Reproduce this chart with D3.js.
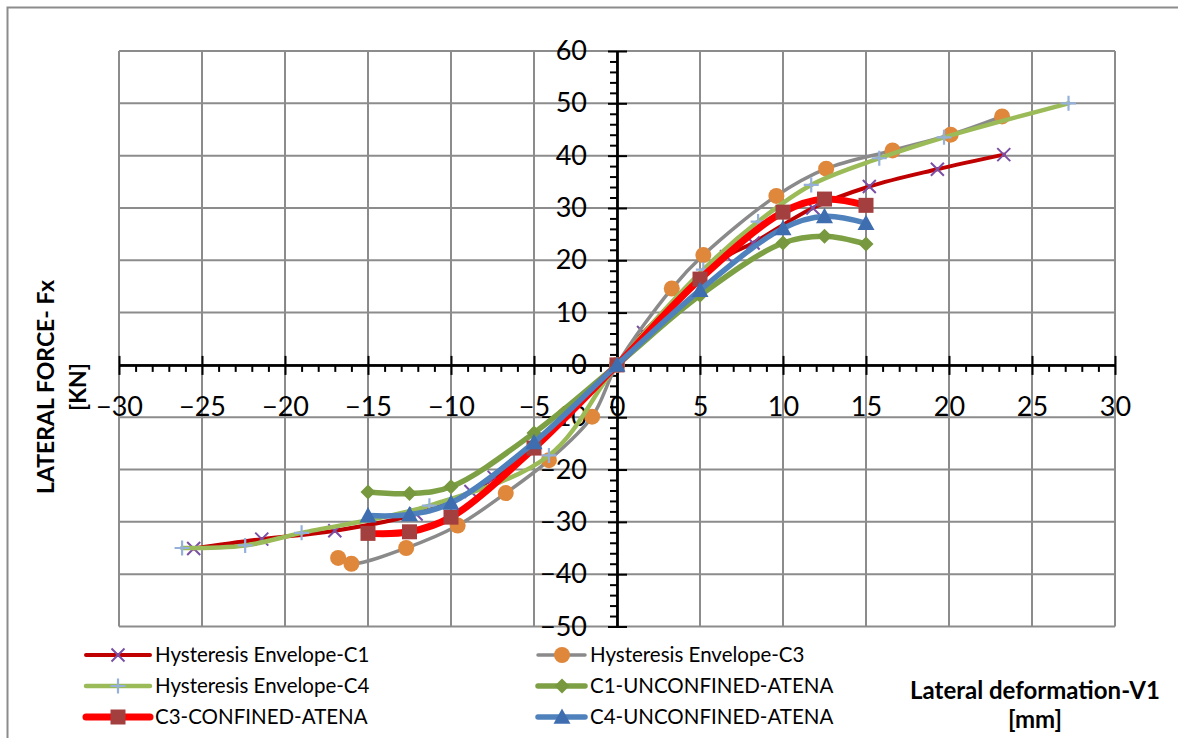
<!DOCTYPE html>
<html>
<head>
<meta charset="utf-8">
<script src="https://cdn.jsdelivr.net/npm/d3@7"></script>
<style>
  html, body { margin: 0; padding: 0; background: #fff; }
  svg { display: block; font-family: Lato, "Open Sans", sans-serif; }
</style>
</head>
<body>
<svg id="chart" width="1178" height="738"></svg>
<script>
// Axis ticks
const xTicks = [-30, -25, -20, -15, -10, -5, 0, 5, 10, 15, 20, 25, 30];
const yTicks = [60, 50, 40, 30, 20, 10, 0, -10, -20, -30, -40, -50];

// Hysteresis envelopes (experimental)
const c1EnvX = [-25.5, -21.4, -17.0, -12.1, -8.8, -7.4, 0, 1.6, 6.6, 8.2, 11.8, 15.2, 19.3, 23.3];
const c1EnvY = [-35.1, -33.3, -31.7, -28.5, -24.2, -21.5, 0, 6.2, 20.7, 23.3, 30.0, 34.1, 37.4, 40.2];

const c3EnvX = [-16.8, -16.0, -12.7, -9.6, -6.7, -4.1, -1.5, 0, 3.3, 5.2, 9.6, 12.6, 16.6, 20.1, 23.2];
const c3EnvY = [-36.9, -38.0, -35.0, -30.7, -24.5, -18.2, -9.9, 0, 14.6, 21.0, 32.3, 37.5, 41.0, 44.0, 47.5];

const c4EnvX = [-26.2, -22.4, -19.0, -11.3, -4.1, 0, 5.2, 8.5, 11.7, 15.8, 19.7, 27.2];
const c4EnvY = [-35.0, -34.5, -32.1, -26.9, -17.3, 0, 18.2, 27.4, 34.4, 39.5, 43.5, 50.0];

// ATENA models
const atenaX = [-15, -12.5, -10, -5, 0, 5, 10, 12.5, 15];
const c1AtenaY = [-24.3, -24.6, -23.3, -13.0, 0, 13.3, 23.3, 24.6, 23.1];
const c3AtenaY = [-32.2, -31.9, -29.1, -15.9, 0, 16.4, 29.2, 31.7, 30.5];
const c4AtenaY = [-28.8, -28.6, -26.4, -14.8, 0, 14.3, 26.1, 28.4, 27.1];

const seriesNames = [
  "Hysteresis Envelope-C1", "Hysteresis Envelope-C3", "Hysteresis Envelope-C4",
  "C1-UNCONFINED-ATENA", "C3-CONFINED-ATENA", "C4-UNCONFINED-ATENA"
];

const zip = (xs, ys) => xs.map((v, i) => ({ x: v, y: ys[i] }));

const series = [
  { name: seriesNames[0], pts: zip(c1EnvX, c1EnvY), line: "#C00000", lw: 4, marker: "x", mc: "#7A4FA6", ms: 13 },
  { name: seriesNames[1], pts: zip(c3EnvX, c3EnvY), line: "#8A8A8A", lw: 3.5, marker: "circle", mc: "#DF873B", ms: 16 },
  { name: seriesNames[2], pts: zip(c4EnvX, c4EnvY), line: "#9BBB59", lw: 4.5, marker: "plus", mc: "#95B0DA", ms: 15 },
  { name: seriesNames[3], pts: zip(atenaX, c1AtenaY), line: "#7DA045", lw: 5.5, marker: "diamond", mc: "#77983E", ms: 15 },
  { name: seriesNames[4], pts: zip(atenaX, c3AtenaY), line: "#FF0000", lw: 7, marker: "square", mc: "#A3403F", ms: 15 },
  { name: seriesNames[5], pts: zip(atenaX, c4AtenaY), line: "#4F81BD", lw: 5.5, marker: "triangle", mc: "#3E6EAF", ms: 17 }
];

const svg = d3.select("#chart");

// Chart frame
svg.append("rect")
  .attr("x", 7.5).attr("y", 7.5)
  .attr("width", 1190).attr("height", 760)
  .attr("fill", "#fff").attr("stroke", "#8c8c8c").attr("stroke-width", 2);

const plot = { left: 119, right: 1115, top: 51, bottom: 626.5 };
const x = d3.scaleLinear().domain([-30, 30]).range([plot.left, plot.right]);
const y = d3.scaleLinear().domain([-50, 60]).range([plot.bottom, plot.top]);

// Gridlines
const grid = svg.append("g").attr("stroke", "#8c8c8c").attr("stroke-width", 2);
grid.selectAll("line.v").data(xTicks).join("line")
  .attr("x1", d => x(d)).attr("x2", d => x(d))
  .attr("y1", plot.top).attr("y2", plot.bottom);
grid.selectAll("line.h").data(yTicks).join("line")
  .attr("x1", plot.left).attr("x2", plot.right)
  .attr("y1", d => y(d)).attr("y2", d => y(d));

// Axes crossing at the origin
const x0 = x(0), y0 = y(0);
const xMinor = d3.range(-30, 31, 1).filter(v => v % 5 !== 0);
const yMinor = d3.range(-50, 61, 2).filter(v => v % 10 !== 0);

function styleAxis(g) {
  g.select(".domain").attr("stroke", "#000").attr("stroke-width", 2);
  g.selectAll(".tick line").attr("stroke", "#000").attr("stroke-width", 2);
}

// X axis: major ticks cross, minor ticks outside
svg.append("g").attr("transform", `translate(0,${y0})`)
  .call(d3.axisBottom(x).tickValues(xTicks).tickSize(10).tickFormat("").tickSizeOuter(0))
  .call(styleAxis);
svg.append("g").attr("transform", `translate(0,${y0})`)
  .call(d3.axisTop(x).tickValues(xTicks).tickSize(9).tickFormat("").tickSizeOuter(0))
  .call(styleAxis);
svg.append("g").attr("transform", `translate(0,${y0})`)
  .call(d3.axisBottom(x).tickValues(xMinor).tickSize(7).tickFormat("").tickSizeOuter(0))
  .call(styleAxis);
svg.append("g").attr("transform", `translate(0,${y0})`)
  .call(d3.axisBottom(x).tickValues(xTicks).tickSize(0).tickPadding(32).tickFormat(d3.format("d")))
  .call(g => {
    g.select(".domain").remove();
    g.selectAll("text").attr("font-size", 27).attr("fill", "#000").attr("font-family", "Lato");
  });

// Y axis: major ticks cross, minor ticks outside
svg.append("g").attr("transform", `translate(${x0},0)`)
  .call(d3.axisLeft(y).tickValues(yTicks).tickSize(9).tickFormat("").tickSizeOuter(0))
  .call(styleAxis);
svg.append("g").attr("transform", `translate(${x0},0)`)
  .call(d3.axisRight(y).tickValues(yTicks).tickSize(10).tickFormat("").tickSizeOuter(0))
  .call(styleAxis);
svg.append("g").attr("transform", `translate(${x0},0)`)
  .call(d3.axisLeft(y).tickValues(yMinor).tickSize(7).tickFormat("").tickSizeOuter(0))
  .call(styleAxis);
svg.append("g").attr("transform", `translate(${x0},0)`)
  .call(d3.axisLeft(y).tickValues(yTicks).tickSize(0).tickPadding(30).tickFormat(d3.format("d")))
  .call(g => {
    g.select(".domain").remove();
    g.selectAll("text").attr("font-size", 27).attr("fill", "#000").attr("font-family", "Lato");
  });

// Marker shapes
function drawMarker(g, type, cx, cy, size, color) {
  const h = size / 2;
  if (type === "x") {
    g.append("path").attr("d", `M${cx - h},${cy - h}L${cx + h},${cy + h}M${cx - h},${cy + h}L${cx + h},${cy - h}`)
      .attr("stroke", color).attr("stroke-width", 2).attr("fill", "none");
  } else if (type === "plus") {
    g.append("path").attr("d", `M${cx - h},${cy}L${cx + h},${cy}M${cx},${cy - h}L${cx},${cy + h}`)
      .attr("stroke", color).attr("stroke-width", 2.2).attr("fill", "none");
  } else if (type === "circle") {
    g.append("circle").attr("cx", cx).attr("cy", cy).attr("r", h).attr("fill", color);
  } else if (type === "square") {
    g.append("rect").attr("x", cx - h).attr("y", cy - h).attr("width", size).attr("height", size).attr("fill", color);
  } else if (type === "diamond") {
    g.append("path").attr("d", `M${cx},${cy - h}L${cx + h},${cy}L${cx},${cy + h}L${cx - h},${cy}Z`).attr("fill", color);
  } else if (type === "triangle") {
    g.append("path").attr("d", `M${cx},${cy - h}L${cx + h},${cy + h * 0.8}L${cx - h},${cy + h * 0.8}Z`).attr("fill", color);
  }
}

// Smoothed series lines with markers
const lineGen = d3.line().x(d => x(d.x)).y(d => y(d.y)).curve(d3.curveCatmullRom.alpha(0.5));
series.forEach(s => {
  const g = svg.append("g");
  g.append("path").datum(s.pts).attr("d", lineGen)
    .attr("fill", "none").attr("stroke", s.line).attr("stroke-width", s.lw)
    .attr("stroke-linejoin", "round").attr("stroke-linecap", "round");
  s.pts.forEach(p => drawMarker(g, s.marker, x(p.x), y(p.y), s.ms, s.mc));
});

// Legend, two columns
const legendCols = [{ lx1: 86, lx2: 150, mx: 118, tx: 155 }, { lx1: 538, lx2: 585, mx: 562, tx: 590 }];
const legendRows = [655, 686, 717];
series.forEach((s, i) => {
  const c = legendCols[i % 2], ry = legendRows[Math.floor(i / 2)];
  const g = svg.append("g");
  g.append("line").attr("x1", c.lx1).attr("x2", c.lx2).attr("y1", ry).attr("y2", ry)
    .attr("stroke", s.line).attr("stroke-width", s.lw).attr("stroke-linecap", "round");
  drawMarker(g, s.marker, c.mx, ry, s.ms, s.mc);
  g.append("text").attr("x", c.tx).attr("y", ry).attr("dy", "0.36em")
    .attr("font-size", 20.5).attr("fill", "#000").text(s.name);
});

// Axis titles
const yTitle = svg.append("text").attr("transform", "translate(46,387) rotate(-90)")
  .attr("text-anchor", "middle").attr("font-weight", "bold").attr("font-size", 23).attr("fill", "#000");
yTitle.append("tspan").attr("x", 0).attr("dy", "0.36em").text("LATERAL FORCE- Fx");
yTitle.append("tspan").attr("x", 0).attr("dy", "1.36em").text("[KN]");

svg.append("text").attr("x", 1035).attr("y", 690).attr("dy", "0.36em")
  .attr("text-anchor", "middle").attr("font-weight", "bold").attr("font-size", 24).attr("fill", "#000")
  .text("Lateral deformation-V1");
svg.append("text").attr("x", 1035).attr("y", 719).attr("dy", "0.36em")
  .attr("text-anchor", "middle").attr("font-weight", "bold").attr("font-size", 24).attr("fill", "#000")
  .text("[mm]");
</script>
</body>
</html>
